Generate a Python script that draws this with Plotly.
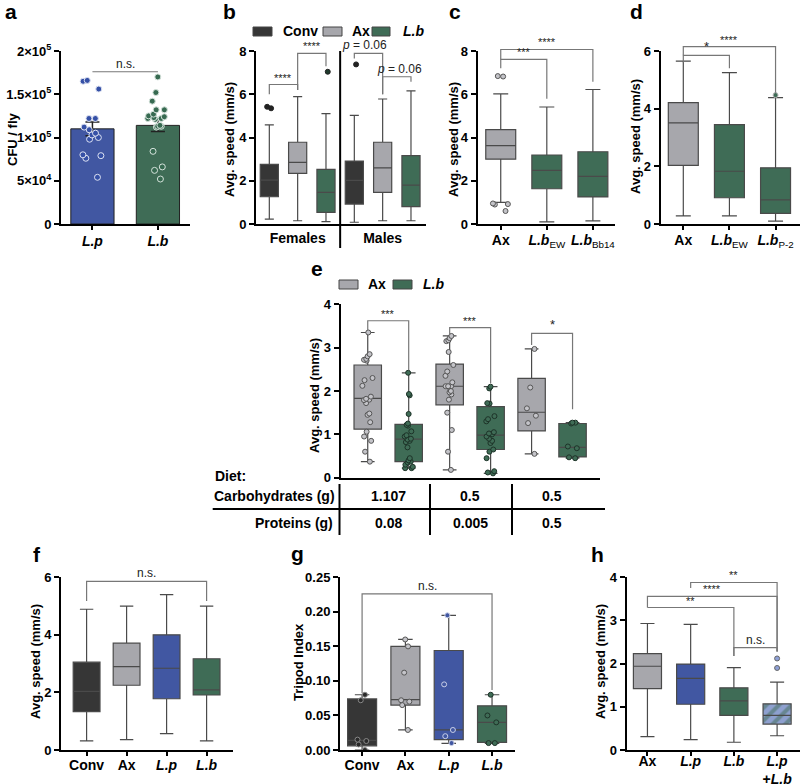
import plotly.graph_objects as go

W, H = 800, 784
FONT = 'Liberation Sans, Arial, Helvetica, sans-serif'

COL = {'Conv': '#363636', 'Ax': '#a7a7ac', 'L.b': '#3f6c56', 'L.p': '#4157a2', 'mix': '#8ea0cf'}
EDGE = '#4a4a4a'

# ---------------- data ----------------
# a: CFU / fly (mean +/- sem, individual flies)
a_groups = ['L.p', 'L.b']
a_mean = [1.10e5, 1.14e5]
a_sem = [0.08e5, 0.07e5]
a_lp_pts = [1.65e5, 1.66e5, 1.56e5, 1.22e5, 1.22e5, 1.12e5, 1.09e5, 1.05e5, 1.03e5,
            1.0e5, 0.98e5, 0.80e5, 0.79e5, 0.76e5, 0.54e5]
a_lb_pts = [1.70e5, 1.52e5, 1.42e5, 1.32e5, 1.32e5, 1.27e5, 1.25e5, 1.22e5, 1.22e5, 1.24e5,
            1.21e5, 1.23e5, 1.14e5, 1.13e5, 1.12e5, 1.13e5, 0.84e5, 0.66e5, 0.62e5, 0.52e5]

# b: females / males
b_groups = ['Conv', 'Ax', 'L.b', 'Conv', 'Ax', 'L.b']
b_sex = ['Females', 'Males']
b_low = [0.23, 0.15, 0.11, 0.08, 0.15, 0.15]
b_q1 = [1.26, 2.34, 0.54, 0.92, 1.46, 0.80]
b_med = [2.03, 2.85, 1.46, 2.02, 2.60, 1.80]
b_q3 = [2.76, 3.78, 2.53, 2.91, 3.78, 3.16]
b_high = [4.58, 5.89, 5.10, 5.02, 5.78, 6.16]
b_out = [[5.35, 5.42], [], [7.04], [7.38], [], []]

# c: strains
c_groups = ['Ax', 'L.b', 'L.b']
c_ticks = ['<b>Ax</b>', '<b><i>L.b</i></b><sub>EW</sub>', '<b><i>L.b</i></b><sub>Bb14</sub>']
c_low = [1.00, 0.10, 0.14]
c_q1 = [3.00, 1.63, 1.25]
c_med = [3.62, 2.48, 2.20]
c_q3 = [4.36, 3.19, 3.34]
c_high = [6.02, 5.41, 6.22]
c_out = [[6.82, 6.84, 0.95, 0.90, 0.92, 0.60], [], []]

# d: strains
d_groups = ['Ax', 'L.b', 'L.b']
d_ticks = ['<b>Ax</b>', '<b><i>L.b</i></b><sub>EW</sub>', '<b><i>L.b</i></b><sub>P-2</sub>']
d_low = [0.28, 0.28, 0.10]
d_q1 = [2.03, 0.91, 0.37]
d_med = [3.51, 1.83, 0.84]
d_q3 = [4.21, 3.45, 1.95]
d_high = [5.65, 5.25, 4.38]
d_out = [[], [], [4.47]]

# e: diets
e_groups = ['Ax', 'L.b', 'Ax', 'L.b', 'Ax', 'L.b']
e_low = [0.37, 0.22, 0.18, 0.10, 0.55, 0.45]
e_q1 = [1.12, 0.37, 1.68, 0.65, 1.08, 0.48]
e_med = [1.83, 0.89, 2.11, 0.98, 1.51, 0.70]
e_q3 = [2.60, 1.23, 2.62, 1.64, 2.29, 1.25]
e_high = [3.35, 2.42, 3.27, 2.10, 2.97, 1.27]
e_pts = [
    [3.35, 2.85, 2.80, 2.74, 2.72, 2.70, 2.30, 2.25, 2.12, 1.87, 1.82, 1.80, 1.79, 1.72,
     1.48, 1.45, 1.28, 1.06, 0.95, 0.85, 0.60, 0.37],
    [2.42, 1.93, 1.90, 1.47, 1.25, 1.22, 1.20, 1.07, 0.98, 0.95, 0.90, 0.88, 0.85, 0.82,
     0.70, 0.45, 0.40, 0.37, 0.35, 0.30, 0.25, 0.22, 0.22],
    [3.27, 3.22, 3.17, 3.15, 2.90, 2.60, 2.45, 2.35, 2.20, 2.11, 2.11, 2.11, 2.10, 2.00,
     1.97, 1.92, 1.80, 1.50, 1.10, 0.60, 0.18],
    [2.10, 2.06, 1.72, 1.71, 1.42, 1.35, 1.30, 1.05, 1.02, 1.00, 0.95, 0.90, 0.85, 0.80,
     0.65, 0.60, 0.45, 0.15, 0.12, 0.10],
    [2.97, 2.08, 1.60, 1.43, 1.26, 0.55],
    [1.27, 1.27, 1.25, 0.72, 0.68, 0.47, 0.45],
]
diet_carbs = ['1.107', '0.5', '0.5']
diet_prot = ['0.08', '0.005', '0.5']

# f: avg speed
f_groups = ['Conv', 'Ax', 'L.p', 'L.b']
f_low = [0.32, 0.36, 0.57, 0.32]
f_q1 = [1.33, 2.25, 1.78, 1.91]
f_med = [2.04, 2.90, 2.84, 2.09]
f_q3 = [3.05, 3.71, 4.00, 3.17]
f_high = [4.89, 5.00, 5.40, 5.00]

# g: tripod index
g_groups = ['Conv', 'Ax', 'L.p', 'L.b']
g_low = [0.0, 0.029, 0.0097, 0.0097]
g_q1 = [0.006, 0.065, 0.015, 0.011]
g_med = [0.014, 0.073, 0.029, 0.040]
g_q3 = [0.074, 0.150, 0.144, 0.064]
g_high = [0.080, 0.160, 0.195, 0.080]
g_pts = [[0.080, 0.072, 0.015, 0.013, 0.008, 0.0],
         [0.160, 0.150, 0.112, 0.072, 0.070, 0.065, 0.029],
         [0.195, 0.095, 0.029, 0.020, 0.010],
         [0.080, 0.050, 0.040, 0.010, 0.010]]

# h: mono / co-association
h_groups = ['Ax', 'L.p', 'L.b', 'mix']
h_low = [0.31, 0.24, 0.18, 0.33]
h_q1 = [1.42, 1.06, 0.80, 0.60]
h_med = [1.94, 1.66, 1.14, 0.80]
h_q3 = [2.23, 1.99, 1.44, 1.07]
h_high = [2.93, 2.91, 1.91, 1.57]
h_out = [[], [], [], [1.90, 2.12]]

# ---------------- layout geometry (pixels) ----------------
PANELS = {
    'a': dict(n=1, x=(61, 190), y=(51, 224), xr=(-0.48, 1.49), yr=(0, 2e5), so=-1),
    'b': dict(n=2, x=(256, 426), y=(51, 224), xr=(-0.47, 5.53), yr=(0, 8), so=0),
    'c': dict(n=3, x=(477.7, 615), y=(51, 224), xr=(-0.5, 2.48), yr=(0, 8), so=-2),
    'd': dict(n=4, x=(660.7, 800), y=(51, 224), xr=(-0.49, 2.53), yr=(0, 6), so=-2),
    'e': dict(n=5, x=(340.7, 600), y=(304.3, 477.7), xr=(-0.66, 5.67), yr=(0, 4), so=0),
    'f': dict(n=6, x=(61, 233), y=(577.3, 750), xr=(-0.64, 3.66), yr=(0, 6), so=-3),
    'g': dict(n=7, x=(340, 515), y=(577.3, 750), xr=(-0.51, 3.53), yr=(0, 0.25), so=-3),
    'h': dict(n=8, x=(626.7, 800), y=(577.3, 750), xr=(-0.48, 3.53), yr=(0, 4), so=-7),
}

fig = go.Figure()


def ids(p):
    n = PANELS[p]['n']
    s = '' if n == 1 else str(n)
    return 'x' + s, 'y' + s


def ypap(p, v):
    P = PANELS[p]
    top, bot = P['y']
    r0, r1 = P['yr']
    return 1 - (bot - (v - r0) / (r1 - r0) * (bot - top)) / H


def note(x, y, text, size=14, xanchor='center', angle=0, xref='paper'):
    fig.add_annotation(x=x, y=y, xref=xref, yref='paper', text=text, showarrow=False,
                       xanchor=xanchor, yanchor='middle', textangle=angle,
                       font=dict(size=size, color='black', family=FONT))


def add_boxes(p, low, q1, med, q3, high, groups, width=0.65):
    xa, ya = ids(p)
    for i in range(len(low)):
        fill = COL[groups[i]]
        if groups[i] == 'mix':
            fill = 'rgba(0,0,0,0)'
        fig.add_trace(go.Box(
            x=[i], lowerfence=[low[i]], q1=[q1[i]], median=[med[i]], q3=[q3[i]],
            upperfence=[high[i]], width=width, whiskerwidth=0.5, fillcolor=fill,
            line=dict(color=EDGE, width=1.2), boxpoints=False, orientation='v',
            xaxis=xa, yaxis=ya, hoverinfo='skip'))


def add_points(p, pos, vals, fill, edge, size=5, jitter=0.5, width=0.65):
    if not vals:
        return
    xa, ya = ids(p)
    fig.add_trace(go.Box(
        x=[pos] * len(vals), y=vals, boxpoints='all', jitter=jitter, pointpos=0,
        width=width, fillcolor='rgba(0,0,0,0)', line=dict(color='rgba(0,0,0,0)', width=0),
        marker=dict(color=fill, size=size, line=dict(color=edge, width=1)),
        xaxis=xa, yaxis=ya, hoverinfo='skip'))


def bracket(p, x0, x1, y, l0, l1, text, tx=None, size=11):
    xa, _ = ids(p)
    path = (f'M {x0},{ypap(p, l0)} L {x0},{ypap(p, y)} '
            f'L {x1},{ypap(p, y)} L {x1},{ypap(p, l1)}')
    fig.add_shape(type='path', path=path, xref=xa, yref='paper',
                  line=dict(color='#777777', width=1.2))
    fig.add_annotation(x=(x0 + x1) / 2 if tx is None else tx, y=ypap(p, y), xref=xa,
                       yref='paper', text=text, showarrow=False, xanchor='center',
                       yanchor='bottom', yshift=-1,
                       font=dict(size=size, color='#222', family=FONT))


# ---- a ----
xa, ya = ids('a')
fig.add_trace(go.Bar(
    x=[0, 1], y=a_mean, width=0.66, marker=dict(color=[COL[g] for g in a_groups],
                                                 line=dict(color='#222', width=1)),
    error_y=dict(type='data', array=a_sem, color='#222', thickness=1.5, width=7),
    xaxis=xa, yaxis=ya, hoverinfo='skip'))
add_points('a', 0, a_lp_pts, '#3550a6', '#dde2f2', size=6, jitter=0.7, width=0.6)
add_points('a', 1, a_lb_pts, '#376a51', '#d6e3dc', size=6, jitter=0.7, width=0.6)
bracket('a', 0, 1, 1.76e5, 1.76e5, 1.76e5, 'n.s.', size=12)

# ---- b ----
add_boxes('b', b_low, b_q1, b_med, b_q3, b_high, b_groups, width=0.64)
for i, o in enumerate(b_out):
    add_points('b', i, o, '#1f3a2c' if b_groups[i] == 'L.b' else '#222', '#222',
               size=5, jitter=0.6, width=0.4)
bracket('b', 0, 1, 6.45, 6.0, 6.2, '****')
bracket('b', 1, 2, 7.89, 6.2, 7.3, '****')
bracket('b', 3, 4, 7.89, 7.65, 6.0, '<i>p</i> = 0.06', tx=3.35, size=12)
bracket('b', 4, 5, 6.81, 6.0, 6.58, '<i>p</i> = 0.06', tx=4.6, size=12)
fig.add_shape(type='line', xref='x2', yref='paper', x0=2.5, x1=2.5,
              y0=1 - 248 / H, y1=1 - 51 / H, line=dict(color='black', width=2))

# ---- c ----
add_boxes('c', c_low, c_q1, c_med, c_q3, c_high, c_groups, width=0.65)
add_points('c', 0, c_out[0][:2], '#c3c3c8', '#555', size=5, jitter=0.5, width=0.4)
add_points('c', 0, c_out[0][2:], '#c3c3c8', '#555', size=5, jitter=0.8, width=0.5)
bracket('c', 0, 1, 7.61, 7.2, 5.79, '***')
bracket('c', 0, 2, 8.07, 7.61, 6.58, '****')

# ---- d ----
add_boxes('d', d_low, d_q1, d_med, d_q3, d_high, d_groups, width=0.65)
add_points('d', 2, d_out[2], '#3f6c56', '#bbb', size=5, jitter=0)
bracket('d', 0, 1, 5.85, 5.6, 5.4, '*', size=13)
bracket('d', 0, 2, 6.15, 5.85, 4.55, '****')

# ---- e ----
add_boxes('e', e_low, e_q1, e_med, e_q3, e_high, e_groups, width=0.67)
for i, pts in enumerate(e_pts):
    if e_groups[i] == 'Ax':
        add_points('e', i, pts, '#c4c4c9', '#555', size=5, jitter=0.45, width=0.6)
    else:
        add_points('e', i, pts, '#3f6c56', '#1d3328', size=5, jitter=0.45, width=0.6)
bracket('e', 0, 1, 3.62, 3.41, 2.48, '***')
bracket('e', 2, 3, 3.46, 3.29, 2.18, '***')
bracket('e', 4, 5, 3.33, 3.06, 1.58, '*', size=13)

# ---- f ----
add_boxes('f', f_low, f_q1, f_med, f_q3, f_high, f_groups, width=0.67)
bracket('f', 0, 3, 5.86, 5.18, 5.18, 'n.s.', size=12)

# ---- g ----
add_boxes('g', g_low, g_q1, g_med, g_q3, g_high, g_groups, width=0.67)
g_pt_style = {'Conv': ('#2a2a2a', '#888'), 'Ax': ('#c4c4c9', '#555'),
              'L.p': ('#4157a2', '#c9d0e8'), 'L.b': ('#3f6c56', '#1d3328')}
for i, pts in enumerate(g_pts):
    f_, e_ = g_pt_style[g_groups[i]]
    add_points('g', i, pts, f_, e_, size=5, jitter=0.5, width=0.5)
bracket('g', 0, 3, 0.226, 0.082, 0.087, 'n.s.', size=12)

# ---- h ----
xa, ya = ids('h')
fig.add_trace(go.Bar(
    x=[3], y=[h_q3[3] - h_q1[3]], base=[h_q1[3]], width=0.65,
    marker=dict(color=COL['mix'], line=dict(width=0),
                pattern=dict(shape='/', fgcolor=COL['L.b'], bgcolor=COL['mix'],
                             size=9, solidity=0.45)),
    xaxis=xa, yaxis=ya, hoverinfo='skip'))
add_boxes('h', h_low, h_q1, h_med, h_q3, h_high, h_groups, width=0.65)
add_points('h', 3, h_out[3], '#8ea0d6', '#666', size=5, jitter=0)
bracket('h', 1, 3, 3.88, 3.75, 2.28, '**')
bracket('h', 0, 3, 3.56, 3.3, 2.28, '****')
bracket('h', 0, 2, 3.30, 3.3, 2.18, '**')
bracket('h', 2, 3, 2.37, 2.18, 2.28, 'n.s.', size=12)

# ---------------- axes ----------------
bold = lambda s: f'<b>{s}</b>'
xticks = {
    'a': ([0, 1], ['<b><i>L.p</i></b>', '<b><i>L.b</i></b>']),
    'b': ([1, 4], [bold(s) for s in b_sex]),
    'c': ([0, 1, 2], c_ticks),
    'd': ([0, 1, 2], d_ticks),
    'e': ([], []),
    'f': ([0, 1, 2, 3], ['<b>Conv</b>', '<b>Ax</b>', '<b><i>L.p</i></b>', '<b><i>L.b</i></b>']),
    'g': ([0, 1, 2, 3], ['<b>Conv</b>', '<b>Ax</b>', '<b><i>L.p</i></b>', '<b><i>L.b</i></b>']),
    'h': ([0, 1, 2, 3], ['<b>Ax</b>', '<b><i>L.p</i></b>', '<b><i>L.b</i></b>',
                         '<b><i>L.p</i></b><br><b>+<i>L.b</i></b>']),
}
yticks = {
    'a': ([0, 5e4, 1e5, 1.5e5, 2e5],
          ['0', '5×10<sup>4</sup>', '1×10<sup>5</sup>', '1.5×10<sup>5</sup>', '2×10<sup>5</sup>']),
    'b': ([0, 2, 4, 6, 8], None), 'c': ([0, 2, 4, 6, 8], None),
    'd': ([0, 2, 4, 6], None), 'e': ([0, 1, 2, 3, 4], None),
    'f': ([0, 2, 4, 6], None),
    'g': ([0, 0.05, 0.10, 0.15, 0.20, 0.25], ['0.00', '0.05', '0.10', '0.15', '0.20', '0.25']),
    'h': ([0, 1, 2, 3, 4], None),
}

layout = {}
for p, P in PANELS.items():
    xa, ya = ids(p)
    xk = 'xaxis' + xa[1:]
    yk = 'yaxis' + ya[1:]
    tv, tt = xticks[p]
    no_xt = p in ('b', 'e')
    layout[xk] = dict(
        domain=[P['x'][0] / W, min(P['x'][1] / W, 1)], range=list(P['xr']), anchor=ya,
        showline=True, linecolor='black', linewidth=2, showgrid=False, zeroline=False,
        tickmode='array', tickvals=tv, ticktext=tt, ticks='' if no_xt else 'outside',
        ticklen=4, tickwidth=2, tickcolor='black', showticklabels=p != 'e',
        ticklabelstandoff=P['so'],
        tickfont=dict(size=14, color='black', family=FONT), fixedrange=True,
        automargin=False)
    yv, yt = yticks[p]
    yd = dict(
        domain=[1 - P['y'][1] / H, 1 - P['y'][0] / H], range=list(P['yr']), anchor=xa,
        showline=True, linecolor='black', linewidth=2, showgrid=False, zeroline=False,
        tickmode='array', tickvals=yv, ticks='outside', ticklen=5, tickwidth=2,
        tickcolor='black', tickfont=dict(size=13, color='black', family=FONT, weight='bold'),
        fixedrange=True, automargin=False)
    if yt:
        yd['ticktext'] = yt
    layout[yk] = yd

fig.update_layout(**layout)

# y-axis titles
ytitles = [('CFU / fly', 12, 140), ('Avg. speed (mm/s)', 229, 140),
           ('Avg. speed (mm/s)', 453, 140), ('Avg. speed (mm/s)', 635, 137),
           ('Avg. speed (mm/s)', 315, 396), ('Avg. speed (mm/s)', 35, 662),
           ('Tripod Index', 298, 662), ('Avg. speed (mm/s)', 600, 662)]
for t, x, y in ytitles:
    note(x / W, 1 - y / H, bold(t), size=13, angle=-90)

# panel letters
letters = [('a', 11, 12), ('b', 229, 12), ('c', 455, 12), ('d', 636, 12), ('e', 317, 269),
           ('f', 37, 554), ('g', 297, 553), ('h', 597, 554)]
for t, x, y in letters:
    note(x / W, 1 - y / H, bold(t), size=21)


# legends (b and e)
def swatch(x0, x1, yc, color, label, tx, italic=False):
    fig.add_shape(type='rect', xref='paper', yref='paper', x0=x0 / W, x1=x1 / W,
                  y0=1 - (yc + 5) / H, y1=1 - (yc - 4) / H, fillcolor=color,
                  line=dict(color='#444', width=1))
    txt = f'<b><i>{label}</i></b>' if italic else bold(label)
    note(tx / W, 1 - yc / H, txt, size=14, xanchor='left')


swatch(253, 272, 31, COL['Conv'], 'Conv', 281)
swatch(323, 342, 31, COL['Ax'], 'Ax', 350)
swatch(372, 390, 31, COL['L.b'], 'L.b', 401, italic=True)
swatch(339, 358, 284, COL['Ax'], 'Ax', 366)
swatch(393, 412, 284, COL['L.b'], 'L.b', 421, italic=True)

# diet table under e
note(213 / W, 1 - 476 / H, bold('Diet:'), xanchor='left')
note(337 / W, 1 - 496 / H, bold('Carbohydrates (g)'), xanchor='right')
note(335 / W, 1 - 523 / H, bold('Proteins (g)'), xanchor='right')
for k in range(3):
    note(2 * k + 0.5, 1 - 496 / H, bold(diet_carbs[k]), xref='x5')
    note(2 * k + 0.5, 1 - 523 / H, bold(diet_prot[k]), xref='x5')
fig.add_shape(type='line', xref='paper', yref='paper', x0=212.7 / W, x1=605 / W,
              y0=1 - 509 / H, y1=1 - 509 / H, line=dict(color='black', width=2))
for xv in (339.5, 430, 512):
    fig.add_shape(type='line', xref='paper', yref='paper', x0=xv / W, x1=xv / W,
                  y0=1 - 535 / H, y1=1 - 484 / H, line=dict(color='black', width=2))

fig.update_layout(
    width=W, height=H, margin=dict(l=0, r=0, t=0, b=0, autoexpand=False),
    paper_bgcolor='white', plot_bgcolor='white', showlegend=False,
    boxmode='overlay', barmode='overlay', font=dict(family=FONT, color='black'),
)

fig.write_html('out.html', config={'displayModeBar': False},
               post_script="document.body.style.margin='0';")
